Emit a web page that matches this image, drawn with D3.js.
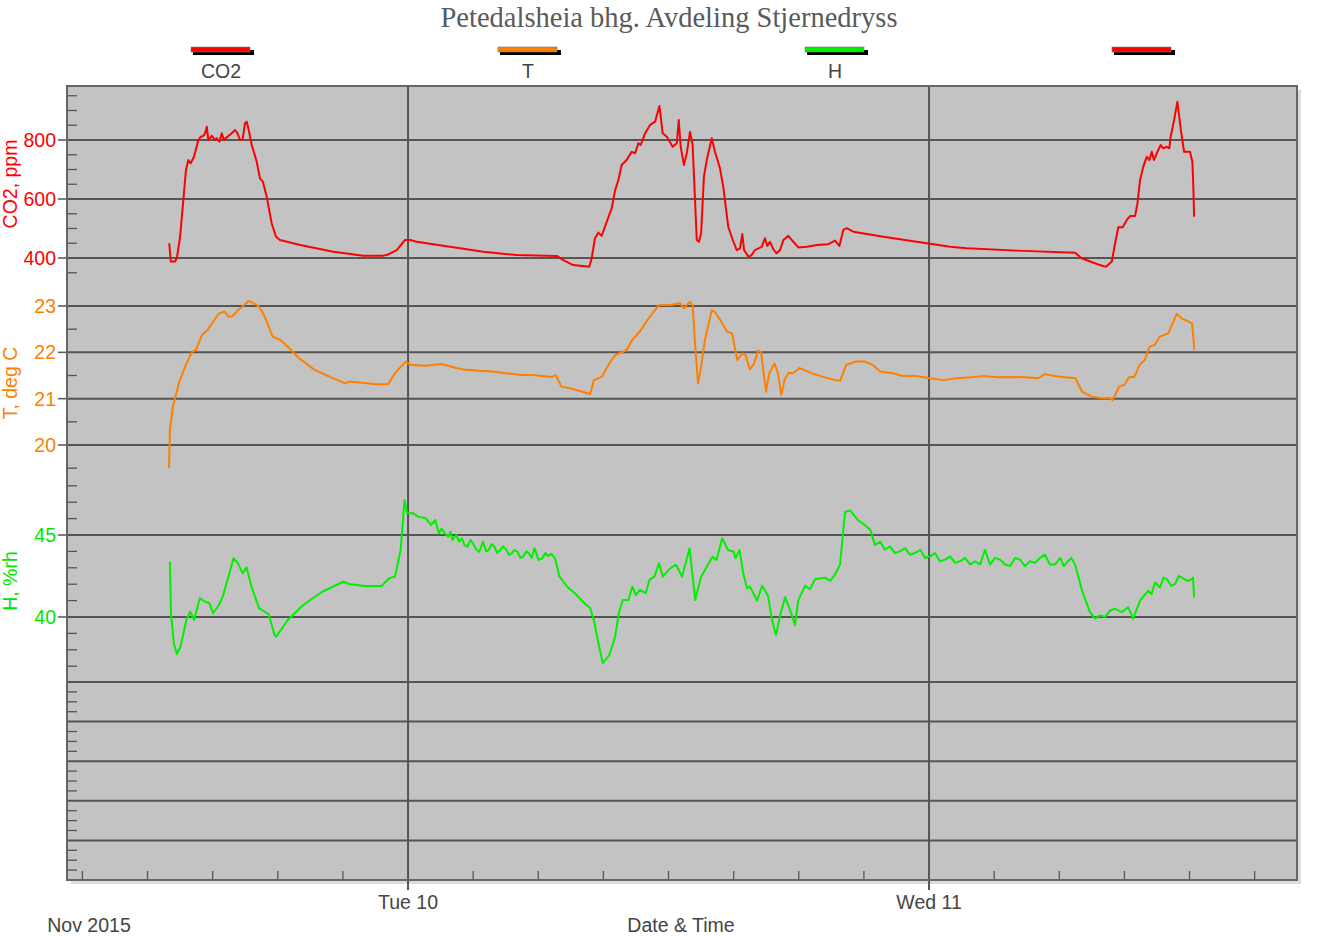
<!DOCTYPE html>
<html><head><meta charset="utf-8">
<script src="https://cdn.jsdelivr.net/npm/d3@7"></script>
<style>body{margin:0;background:#fff}svg{display:block}</style>
</head><body><svg id="c" width="1338" height="936"></svg>
<script>
// ---------- DATA (time = hours since Mon 9 Nov 2015 00:00) ----------
const chartTitle = "Petedalsheia bhg. Avdeling Stjernedryss";
const legendNames = ["CO2", "T", "H", ""];
const legendColors = ["#ff0000", "#ff8000", "#00f000", "#ff0000"];
const xAxisTitle = "Date & Time";
const xPeriodLabel = "Nov 2015";
const xDomainHours = [8.29, 64.95];

const co2Ticks = [400, 600, 800];
const co2Minor = [350, 450, 500, 550, 650, 700, 750, 850, 900, 950];
const tTicks = [20, 21, 22, 23];
const tMinor = [19.5, 20.5, 21.5, 22.5];
const hTicks = [40, 45];
const hMinor = [37, 38, 39, 41, 42, 43, 44, 46, 47, 48];
const spareGrid = [1, 2, 3, 4, 5];
const spareMinor = [0.25,0.5,0.75,1.25,1.5,1.75,2.25,2.5,2.75,3.25,3.5,3.75,4.25,4.5,4.75];

const co2 = [[13.00,450],[13.07,388],[13.27,388],[13.35,399],[13.50,472],[13.65,597],[13.77,698],[13.88,732],[13.99,721],[14.14,743],[14.34,800],[14.45,811],[14.57,814],[14.65,823],[14.73,845],[14.80,800],[14.96,814],[15.11,800],[15.19,806],[15.31,794],[15.42,823],[15.52,800],[15.68,811],[15.88,823],[16.03,834],[16.14,823],[16.26,800],[16.38,802],[16.49,857],[16.57,862],[16.66,834],[16.80,783],[17.03,726],[17.18,670],[17.31,659],[17.49,608],[17.72,517],[17.92,472],[18.10,461],[19.03,444],[20.56,421],[21.94,408],[22.86,408],[23.09,412],[23.48,427],[23.86,461],[24.09,461],[24.40,455],[25.93,438],[27.47,421],[29.01,410],[30.85,407],[31.15,393],[31.61,376],[32.35,370],[32.46,399],[32.61,467],[32.77,486],[32.92,475],[33.07,506],[33.38,568],[33.54,630],[33.69,664],[33.84,715],[34.07,732],[34.30,760],[34.46,755],[34.61,789],[34.72,783],[34.92,823],[35.15,851],[35.38,862],[35.58,915],[35.73,823],[35.92,811],[36.19,777],[36.38,789],[36.47,868],[36.56,777],[36.71,715],[36.84,755],[36.99,828],[37.11,783],[37.22,597],[37.30,461],[37.40,455],[37.50,484],[37.63,676],[37.76,732],[37.99,806],[38.14,760],[38.37,704],[38.52,642],[38.75,506],[38.96,461],[39.14,427],[39.29,433],[39.40,481],[39.48,427],[39.68,404],[39.83,410],[39.98,427],[40.29,438],[40.44,467],[40.55,441],[40.67,455],[40.83,429],[40.98,416],[41.14,427],[41.29,461],[41.52,475],[41.75,455],[41.98,436],[42.37,438],[42.83,444],[43.36,447],[43.67,459],[43.87,441],[44.05,495],[44.21,501],[44.51,489],[45.90,472],[47.43,455],[48.97,438],[49.74,433],[52.04,425],[54.73,418],[55.03,399],[55.42,388],[55.87,376],[56.15,370],[56.42,388],[56.57,450],[56.72,504],[56.92,504],[57.11,529],[57.26,542],[57.49,542],[57.60,585],[57.72,664],[57.87,710],[58.03,743],[58.15,732],[58.26,760],[58.36,732],[58.49,755],[58.67,783],[58.79,772],[58.95,777],[59.07,772],[59.13,811],[59.29,868],[59.44,930],[59.60,834],[59.75,760],[60.02,760],[60.13,726],[60.18,630],[60.21,540]];

const temp = [[12.99,19.50],[13.03,20.32],[13.17,20.83],[13.44,21.33],[13.79,21.76],[14.05,22.01],[14.23,22.05],[14.50,22.37],[14.76,22.48],[15.02,22.66],[15.29,22.84],[15.55,22.88],[15.73,22.77],[15.91,22.78],[16.17,22.91],[16.66,23.11],[16.87,23.06],[17.14,22.99],[17.40,22.77],[17.76,22.34],[18.11,22.27],[18.46,22.12],[18.99,21.87],[19.70,21.62],[20.40,21.47],[21.11,21.33],[21.28,21.37],[21.99,21.34],[22.52,21.31],[23.08,21.31],[23.40,21.55],[23.89,21.80],[24.10,21.73],[24.81,21.71],[25.52,21.75],[26.22,21.66],[26.57,21.63],[27.28,21.60],[27.98,21.58],[28.86,21.53],[29.21,21.51],[29.74,21.51],[30.62,21.47],[30.80,21.51],[31.07,21.26],[31.51,21.22],[32.39,21.10],[32.56,21.40],[32.92,21.47],[33.27,21.76],[33.54,21.94],[34.07,22.05],[34.33,22.27],[34.68,22.45],[35.03,22.70],[35.56,23.02],[36.09,23.02],[36.53,23.06],[36.71,22.95],[36.97,23.09],[37.11,23.02],[37.23,22.12],[37.36,21.33],[37.50,21.69],[37.68,22.27],[37.99,22.91],[38.12,22.88],[38.38,22.70],[38.69,22.45],[38.93,22.41],[39.17,21.83],[39.40,21.98],[39.55,21.94],[39.75,21.63],[39.94,21.76],[40.13,22.04],[40.26,22.01],[40.49,21.15],[40.64,21.55],[40.88,21.76],[41.04,21.55],[41.19,21.08],[41.34,21.40],[41.53,21.56],[41.73,21.55],[42.04,21.66],[42.59,21.55],[43.21,21.46],[43.68,21.40],[43.91,21.39],[44.18,21.73],[44.61,21.80],[45.05,21.80],[45.39,21.73],[45.78,21.58],[46.33,21.55],[46.79,21.49],[47.42,21.49],[48.04,21.44],[48.66,21.40],[49.28,21.44],[49.91,21.46],[50.53,21.49],[51.16,21.46],[51.78,21.47],[52.40,21.46],[53.03,21.44],[53.33,21.53],[53.80,21.49],[54.27,21.46],[54.74,21.44],[55.05,21.15],[55.52,21.04],[55.98,21.01],[56.37,21.01],[56.45,20.96],[56.76,21.26],[57.00,21.30],[57.23,21.47],[57.46,21.47],[57.70,21.73],[57.93,21.83],[58.16,22.12],[58.40,22.16],[58.63,22.34],[59.02,22.41],[59.41,22.83],[59.64,22.73],[60.11,22.63],[60.16,22.41],[60.22,22.05]];

const humid = [[13.03,43.37],[13.08,40.23],[13.21,38.40],[13.35,37.74],[13.52,38.19],[13.79,39.82],[13.97,40.32],[14.14,39.82],[14.41,41.14],[14.67,40.93],[14.85,40.84],[15.02,40.23],[15.29,40.73],[15.46,41.24],[15.73,42.46],[15.96,43.58],[16.17,43.27],[16.38,42.66],[16.56,43.03],[16.79,41.85],[17.14,40.53],[17.40,40.32],[17.58,40.18],[17.85,38.90],[17.93,38.80],[18.46,39.82],[19.17,40.73],[20.05,41.54],[21.02,42.15],[21.28,42.01],[21.99,41.89],[22.78,41.89],[23.13,42.36],[23.40,42.46],[23.66,44.09],[23.84,47.13],[23.96,46.32],[24.24,46.32],[24.46,46.12],[24.81,46.02],[25.07,45.61],[25.25,45.91],[25.42,45.10],[25.55,45.40],[25.69,45.10],[25.86,44.90],[25.95,45.20],[26.04,44.70],[26.22,45.00],[26.35,44.60],[26.48,44.80],[26.60,44.40],[26.74,44.29],[26.88,44.70],[27.01,44.45],[27.15,44.10],[27.28,43.98],[27.45,44.59],[27.60,44.00],[27.72,44.09],[27.85,44.45],[27.98,44.29],[28.10,43.90],[28.25,44.09],[28.38,44.30],[28.51,44.13],[28.65,43.80],[28.78,43.88],[28.90,44.10],[29.04,43.98],[29.18,43.60],[29.30,43.68],[29.45,44.00],[29.57,43.88],[29.70,43.60],[29.83,44.19],[30.01,43.48],[30.19,43.58],[30.32,43.90],[30.45,43.72],[30.60,43.85],[30.77,43.58],[30.98,42.46],[31.33,41.85],[31.68,41.45],[32.13,40.84],[32.39,40.53],[32.56,39.82],[32.74,38.60],[32.97,37.18],[33.27,37.68],[33.54,38.80],[33.71,40.23],[33.89,41.04],[34.15,41.04],[34.33,41.85],[34.50,41.34],[34.68,41.65],[34.95,41.45],[35.12,42.26],[35.35,42.46],[35.56,43.27],[35.74,42.46],[36.00,42.87],[36.18,43.07],[36.35,43.17],[36.62,42.46],[36.97,44.19],[37.23,41.04],[37.50,42.46],[37.76,43.07],[38.03,43.68],[38.21,43.48],[38.47,44.80],[38.74,44.09],[39.00,43.98],[39.09,43.58],[39.27,44.09],[39.44,42.66],[39.62,41.75],[39.75,41.85],[40.08,41.0],[40.31,41.9],[40.58,41.3],[40.77,39.8],[40.95,38.9],[41.14,40.1],[41.37,41.2],[41.60,40.4],[41.83,39.5],[41.97,41.0],[42.29,41.9],[42.52,41.7],[42.75,42.3],[43.21,42.4],[43.45,42.2],[43.67,42.6],[43.90,43.2],[44.13,46.4],[44.36,46.5],[44.73,45.9],[45.05,45.6],[45.30,45.3],[45.51,44.4],[45.75,44.6],[45.97,44.1],[46.20,44.3],[46.43,43.9],[46.66,44.0],[46.90,44.2],[47.12,43.8],[47.35,43.9],[47.60,44.1],[47.82,43.6],[48.05,43.7],[48.28,43.9],[48.50,43.4],[48.74,43.5],[48.97,43.7],[49.20,43.3],[49.43,43.4],[49.66,43.6],[49.90,43.2],[50.12,43.4],[50.35,43.2],[50.58,44.1],[50.81,43.2],[51.04,43.6],[51.27,43.5],[51.50,43.2],[51.73,43.1],[51.96,43.6],[52.19,43.5],[52.42,43.1],[52.65,43.4],[52.88,43.3],[53.11,43.6],[53.34,43.8],[53.57,43.2],[53.80,43.2],[54.05,43.6],[54.20,43.1],[54.40,43.4],[54.55,43.6],[54.73,43.2],[55.05,41.6],[55.41,40.3],[55.65,39.9],[55.88,40.1],[56.11,40.0],[56.34,40.4],[56.57,40.5],[56.89,40.3],[57.17,40.6],[57.40,39.9],[57.72,41.0],[58.09,41.6],[58.25,41.4],[58.41,42.1],[58.64,41.8],[58.80,42.4],[58.96,42.3],[59.15,41.9],[59.33,42.0],[59.50,42.5],[59.65,42.4],[59.90,42.2],[60.11,42.3],[60.16,42.4],[60.21,41.2]];

// ---------- LAYOUT ----------
const plot = {left: 67, right: 1297, top: 86, bottom: 880};
const svg = d3.select("#c");
const base = new Date(2015, 10, 9, 0, 0, 0);
const toDate = h => new Date(base.getTime() + h * 3600e3);

const x = d3.scaleTime().domain(xDomainHours.map(toDate)).range([plot.left, plot.right]);
const yCO2 = d3.scaleLinear().domain([400, 800]).range([258, 140]);
const yT = d3.scaleLinear().domain([20, 23]).range([445, 306]);
const yH = d3.scaleLinear().domain([40, 45]).range([617, 535]);
const ySpare = d3.scaleLinear().domain([0, 5]).range([880, 682]);

const font = "'Liberation Sans', Arial, sans-serif";
const fs = 19.5;
const gridCol = "#555";

// shadow
svg.append("rect").attr("x", plot.left + 4).attr("y", plot.top + 4)
  .attr("width", plot.right - plot.left).attr("height", plot.bottom - plot.top)
  .attr("fill", "#dcdcdc");
// background
svg.append("rect").attr("x", plot.left).attr("y", plot.top)
  .attr("width", plot.right - plot.left).attr("height", plot.bottom - plot.top)
  .attr("fill", "#c3c3c3");

// title
svg.append("text").attr("x", 669).attr("y", 27).attr("text-anchor", "middle")
  .attr("font-family", "'Liberation Serif', 'Times New Roman', serif").attr("font-size", 28.5)
  .attr("fill", "#5a5a5a").text(chartTitle);

// legend
const legX = d3.scalePoint().domain(d3.range(legendNames.length)).range([221, 1142]);
legendNames.forEach((n, i) => {
  const cx = legX(i);
  const g = svg.append("g");
  g.append("rect").attr("x", cx - 28).attr("y", 50).attr("width", 61).attr("height", 5).attr("fill", "#000");
  g.append("rect").attr("x", cx - 30).attr("y", 47).attr("width", 59).attr("height", 5)
    .attr("fill", legendColors[i]).attr("stroke", "#777").attr("stroke-width", 0.6);
  if (n) g.append("text").attr("x", cx).attr("y", 78).attr("text-anchor", "middle")
    .attr("font-family", font).attr("font-size", fs).attr("fill", "#444").text(n);
});

// horizontal grid lines
const gridYs = [].concat(co2Ticks.map(yCO2), tTicks.map(yT), hTicks.map(yH), spareGrid.map(ySpare));
svg.append("g").selectAll("line").data(gridYs).join("line")
  .attr("x1", plot.left).attr("x2", plot.right).attr("y1", d => d).attr("y2", d => d)
  .attr("stroke", gridCol).attr("stroke-width", 2);

// minor left ticks (inside)
const minorYs = [].concat(co2Minor.map(yCO2), tMinor.map(yT), hMinor.map(yH), spareMinor.map(ySpare));
svg.append("g").selectAll("line").data(minorYs).join("line")
  .attr("x1", plot.left).attr("x2", plot.left + 10).attr("y1", d => d).attr("y2", d => d)
  .attr("stroke", "#555").attr("stroke-width", 1.3);

// major left ticks outside + labels
function yLabels(scale, ticks, color) {
  const g = svg.append("g");
  ticks.forEach(t => {
    g.append("line").attr("x1", plot.left - 9).attr("x2", plot.left).attr("y1", scale(t)).attr("y2", scale(t))
      .attr("stroke", "#555").attr("stroke-width", 1.5);
    g.append("text").attr("x", plot.left - 11).attr("y", scale(t) + 7).attr("text-anchor", "end")
      .attr("font-family", font).attr("font-size", fs).attr("fill", color).text(t);
  });
}
yLabels(yCO2, co2Ticks, "#ff0000");
yLabels(yT, tTicks, "#ff8000");
yLabels(yH, hTicks, "#00e600");

function yTitle(txt, cy, color) {
  svg.append("text").attr("transform", `translate(17,${cy}) rotate(-90)`).attr("text-anchor", "middle")
    .attr("font-family", font).attr("font-size", fs).attr("fill", color).text(txt);
}
yTitle("CO2, ppm", 184, "#ff0000");
yTitle("T, deg C", 383, "#ff8000");
yTitle("H, %rh", 581, "#00e600");

// vertical day grid lines
const days = x.ticks(d3.timeDay.every(1));
svg.append("g").selectAll("line").data(days).join("line")
  .attr("x1", d => x(d)).attr("x2", d => x(d)).attr("y1", plot.top).attr("y2", plot.bottom + 10)
  .attr("stroke", gridCol).attr("stroke-width", 2);
// minor bottom ticks
const hrs = x.ticks(d3.timeHour.every(3)).filter(d => d.getHours() !== 0);
svg.append("g").selectAll("line").data(hrs).join("line")
  .attr("x1", d => x(d)).attr("x2", d => x(d)).attr("y1", plot.bottom - 9).attr("y2", plot.bottom)
  .attr("stroke", "#555").attr("stroke-width", 1.3);
// day labels
const fmt = d3.timeFormat("%a %-d");
svg.append("g").selectAll("text").data(days).join("text")
  .attr("x", d => x(d)).attr("y", 909).attr("text-anchor", "middle")
  .attr("font-family", font).attr("font-size", fs).attr("fill", "#444").text(d => fmt(d));
svg.append("text").attr("x", 89).attr("y", 932).attr("text-anchor", "middle")
  .attr("font-family", font).attr("font-size", fs).attr("fill", "#444").text(xPeriodLabel);
svg.append("text").attr("x", 681).attr("y", 932).attr("text-anchor", "middle")
  .attr("font-family", font).attr("font-size", fs).attr("fill", "#444").text(xAxisTitle);

// series lines
svg.append("clipPath").attr("id", "clip").append("rect")
  .attr("x", plot.left).attr("y", plot.top).attr("width", plot.right - plot.left).attr("height", plot.bottom - plot.top);
const series = [[co2, yCO2, legendColors[0]], [temp, yT, legendColors[1]], [humid, yH, legendColors[2]]];
series.forEach(([data, ys, col]) => {
  const line = d3.line().x(d => x(toDate(d[0]))).y(d => ys(d[1]));
  svg.append("path").datum(data).attr("d", line).attr("clip-path", "url(#clip)")
    .attr("fill", "none").attr("stroke", col).attr("stroke-width", 2).attr("stroke-linejoin", "round");
});

// border
svg.append("rect").attr("x", plot.left).attr("y", plot.top)
  .attr("width", plot.right - plot.left).attr("height", plot.bottom - plot.top)
  .attr("fill", "none").attr("stroke", "#666").attr("stroke-width", 2);
</script></body></html>
